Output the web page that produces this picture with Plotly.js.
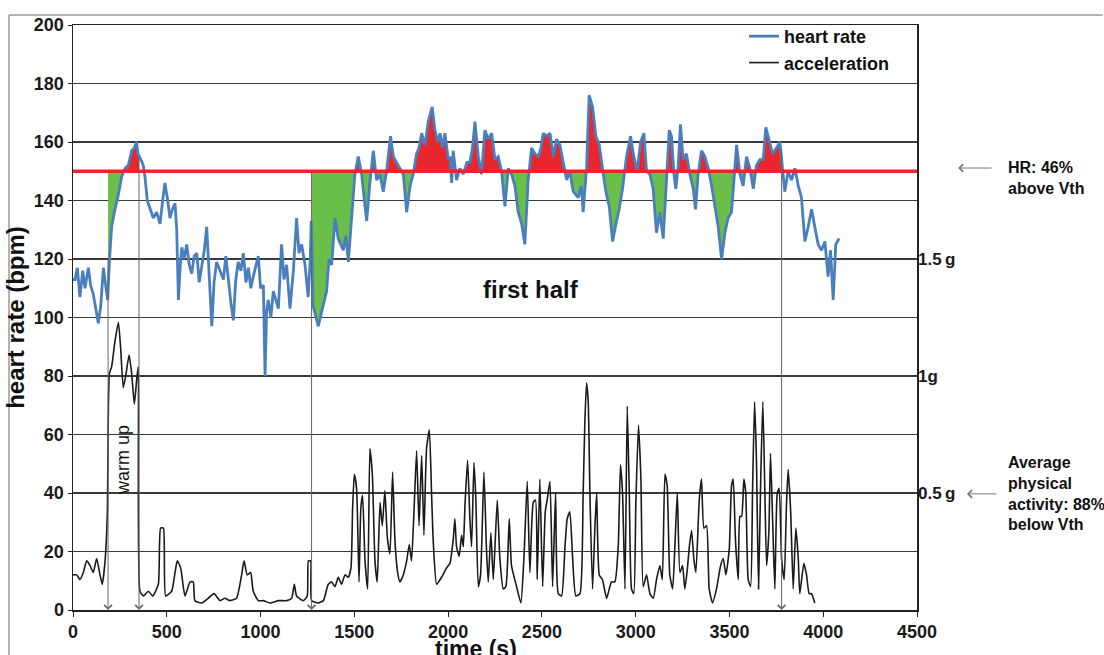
<!DOCTYPE html>
<html><head><meta charset="utf-8">
<script src="https://cdn.plot.ly/plotly-3.0.1.min.js"></script>
<style>html,body{margin:0;padding:0;background:#fff;} #chart{width:1104px;height:655px;}</style>
</head><body><div id="chart"></div>
<script>
// ---- data ----
const hrTime = [
  0,11,23,37,52,64,82,94,108,123,
  135,148,162,174,185,194,206,224,242,259,
  277,295,313,327,339,346,352,362,375,384,
  396,410,428,446,464,478,490,505,517,530,
  544,553,562,572,580,593,606,620,633,646,
  660,673,686,700,713,726,740,752,766,784,
  802,815,828,842,855,868,881,895,908,922,
  935,948,961,975,988,1000,1015,1024,1032,1041,
  1055,1068,1082,1095,1112,1125,1139,1150,1157,1175,
  1192,1205,1219,1237,1254,1265,1270,1280,1295,1308,
  1326,1352,1365,1379,1397,1414,1441,1455,1468,1485,
  1503,1521,1539,1557,1566,1583,1601,1619,1637,1654,
  1672,1693,1708,1725,1743,1761,1779,1797,1814,1832,
  1845,1859,1877,1894,1915,1930,1945,1957,1970,1983,
  2001,2010,2019,2027,2045,2063,2081,2100,2116,2130,
  2143,2161,2178,2196,2214,2232,2250,2267,2285,2303,
  2321,2338,2356,2374,2392,2409,2427,2445,2463,2481,
  2495,2507,2525,2543,2561,2578,2596,2614,2632,2649,
  2667,2694,2710,2720,2738,2752,2770,2788,2806,2823,
  2841,2859,2877,2895,2912,2930,2951,2973,2990,3008,
  3026,3044,3058,3076,3093,3111,3129,3147,3164,3179,
  3191,3204,3214,3227,3239,3253,3271,3289,3307,3319,
  3333,3351,3369,3387,3405,3422,3440,3458,3476,3493,
  3511,3524,3538,3556,3573,3591,3609,3627,3644,3662,
  3680,3694,3712,3730,3751,3769,3783,3795,3813,3831,
  3849,3867,3884,3902,3920,3938,3955,3973,3991,4009,
  4026,4039,4053,4067,4085
];
const hrBpm = [
  113,113,117,107,116,110,117,111,108,102,
  98,104,117,111,106,119,131,137,142,148,
  151,152,157,158,160,156,155,154,152,148,
  140,137,134,136,132,140,146,140,134,137,
  139,130,106,118,124,120,125,118,115,121,
  122,112,117,123,131,115,97,112,119,116,
  113,121,112,105,99,113,119,116,122,112,
  117,110,114,118,121,110,111,80,102,106,
  100,109,106,103,125,113,118,110,103,116,
  134,122,125,118,107,120,133,104,100,97,
  102,109,120,118,134,127,123,128,119,133,
  149,155,149,138,133,146,157,147,149,143,
  150,162,155,153,151,149,136,145,149,156,
  158,163,159,167,172,164,160,163,158,163,
  154,155,146,157,147,151,149,153,153,158,
  167,155,149,164,161,163,154,155,150,138,
  151,149,145,136,132,125,147,158,156,155,
  158,163,162,163,155,161,159,153,147,150,
  143,141,145,136,151,176,172,162,159,151,
  143,138,126,132,137,144,155,162,155,150,
  160,163,150,149,144,129,136,127,146,164,
  162,149,144,152,166,154,156,149,144,137,
  149,157,155,151,145,138,131,120,129,134,
  136,147,159,149,145,155,151,144,152,154,
  154,165,160,156,158,160,151,143,150,147,
  151,145,141,126,131,137,131,125,123,126,
  114,123,106,125,127
];
const accTime = [
  0,20,37,55,73,91,108,126,144,156,
  171,183,194,206,224,242,254,268,283,299,
  313,327,339,348,357,375,402,425,455,467,
  482,494,526,544,556,574,597,624,641,650,
  686,721,752,784,810,837,872,899,912,929,
  947,961,988,1015,1050,1095,1139,1166,1180,1192,
  1228,1249,1255,1267,1272,1308,1335,1361,1379,1397,
  1414,1432,1450,1468,1482,1491,1500,1512,1525,1535,
  1544,1557,1571,1583,1596,1610,1622,1637,1649,1663,
  1676,1690,1704,1717,1731,1743,1761,1779,1793,1805,
  1818,1832,1845,1859,1871,1885,1900,1912,1921,1939,
  1965,1992,2010,2027,2036,2045,2059,2072,2081,2090,
  2104,2116,2125,2138,2148,2161,2173,2191,2205,2214,
  2228,2241,2262,2276,2294,2308,2326,2338,2365,2388,
  2404,2422,2436,2454,2466,2475,2489,2504,2518,2528,
  2543,2557,2573,2587,2605,2623,2635,2649,2664,2681,
  2703,2720,2729,2738,2747,2756,2770,2783,2792,2806,
  2823,2845,2871,2889,2907,2919,2930,2943,2955,2966,
  2978,2990,3001,3015,3028,3040,3058,3076,3094,3111,
  3129,3142,3156,3168,3182,3197,3209,3222,3236,3250,
  3262,3275,3286,3298,3310,3321,3339,3351,3364,3378,
  3392,3410,3431,3453,3467,3481,3499,3511,3520,3532,
  3547,3556,3565,3577,3587,3600,3613,3623,3634,3644,
  3655,3667,3678,3689,3698,3710,3719,3730,3742,3755,
  3765,3778,3792,3804,3813,3826,3840,3854,3867,3875,
  3897,3911,3925,3937,3955
];
const accG = [
  0.15,0.15,0.13,0.16,0.21,0.19,0.16,0.22,0.15,0.11,
  0.21,0.41,1.01,1.04,1.15,1.23,1.12,0.95,1.01,1.09,
  1.01,0.88,0.98,1.04,0.08,0.06,0.08,0.06,0.11,0.35,
  0.35,0.06,0.08,0.16,0.21,0.18,0.06,0.12,0.12,0.04,
  0.03,0.05,0.07,0.04,0.05,0.04,0.05,0.15,0.21,0.15,
  0.16,0.08,0.04,0.04,0.03,0.04,0.04,0.05,0.11,0.06,
  0.04,0.06,0.21,0.21,0.04,0.03,0.04,0.11,0.12,0.10,
  0.14,0.11,0.15,0.14,0.18,0.44,0.58,0.52,0.12,0.44,
  0.49,0.21,0.09,0.69,0.58,0.21,0.12,0.46,0.36,0.51,
  0.31,0.24,0.59,0.29,0.16,0.12,0.15,0.21,0.28,0.21,
  0.42,0.68,0.36,0.66,0.32,0.69,0.77,0.49,0.29,0.11,
  0.14,0.18,0.20,0.30,0.39,0.27,0.23,0.32,0.27,0.45,
  0.64,0.39,0.27,0.63,0.47,0.10,0.15,0.59,0.25,0.12,
  0.33,0.13,0.47,0.22,0.09,0.10,0.39,0.19,0.10,0.03,
  0.22,0.55,0.16,0.46,0.47,0.13,0.56,0.10,0.42,0.47,
  0.55,0.10,0.50,0.07,0.06,0.27,0.39,0.42,0.22,0.06,
  0.07,0.50,0.80,0.97,0.89,0.50,0.09,0.36,0.50,0.15,
  0.13,0.05,0.12,0.12,0.27,0.62,0.50,0.09,0.87,0.50,
  0.09,0.07,0.46,0.79,0.56,0.10,0.15,0.07,0.05,0.13,
  0.19,0.13,0.58,0.53,0.15,0.09,0.27,0.50,0.16,0.19,
  0.09,0.17,0.27,0.34,0.22,0.16,0.47,0.56,0.35,0.36,
  0.09,0.03,0.09,0.19,0.22,0.15,0.26,0.53,0.56,0.30,
  0.13,0.40,0.40,0.56,0.50,0.13,0.10,0.50,0.89,0.64,
  0.09,0.57,0.89,0.50,0.19,0.33,0.67,0.39,0.09,0.50,
  0.52,0.22,0.13,0.45,0.60,0.43,0.09,0.35,0.22,0.07,
  0.20,0.15,0.07,0.07,0.03
];
const thresholdBpm = 150;                 // Vth heart rate
const fillIntervals = [[187, 352], [1272, 3778]];
const markerTime = [187, 352, 1272, 3778];
const markerTop = [121, 155, 150, 158];
const gTickVals = [0.5, 1, 1.5];
const gTickText = ['0.5\u2009g', '1g', '1.5\u2009g'];
const xTickVals = [0, 500, 1000, 1500, 2000, 2500, 3000, 3500, 4000, 4500];
const xTitle = 'time (s)';

// ---- helpers ----
const FONT = '"Liberation Sans", Arial, Helvetica, sans-serif';
function hrAt(t) {
  for (let i = 0; i < hrTime.length - 1; i++) {
    if (t >= hrTime[i] && t <= hrTime[i + 1]) {
      const f = (t - hrTime[i]) / (hrTime[i + 1] - hrTime[i]);
      return hrBpm[i] + f * (hrBpm[i + 1] - hrBpm[i]);
    }
  }
  return hrBpm[hrBpm.length - 1];
}
function buildFill(a, b, below) {
  const thr = thresholdBpm;
  const pts = [[a, hrAt(a)]];
  hrTime.forEach((t, i) => { if (t > a && t < b) pts.push([t, hrBpm[i]]); });
  pts.push([b, hrAt(b)]);
  const out = [];
  for (let i = 0; i < pts.length; i++) {
    if (i > 0) {
      const [t0, v0] = pts[i - 1], [t1, v1] = pts[i];
      if ((v0 - thr) * (v1 - thr) < 0) {
        out.push([t0 + (thr - v0) / (v1 - v0) * (t1 - t0), thr]);
      }
    }
    out.push(pts[i]);
  }
  const xs = out.map(p => p[0]);
  const ys = out.map(p => below ? Math.min(p[1], thr) : Math.max(p[1], thr));
  xs.push(b, a); ys.push(thr, thr);
  return { x: xs, y: ys };
}

const traces = [];
fillIntervals.forEach(([a, b]) => {
  const g = buildFill(a, b, true);
  traces.push({ type: 'scatter', mode: 'lines', x: g.x, y: g.y, fill: 'toself',
    fillcolor: '#6abf4b', line: { width: 0 }, hoverinfo: 'skip', showlegend: false });
  const r = buildFill(a, b, false);
  traces.push({ type: 'scatter', mode: 'lines', x: r.x, y: r.y, fill: 'toself',
    fillcolor: '#e8262c', line: { width: 0 }, hoverinfo: 'skip', showlegend: false });
});
traces.push({ type: 'scatter', mode: 'lines', name: 'acceleration', x: accTime, y: accG,
  yaxis: 'y2', line: { color: '#1a1a1a', width: 1.6, shape: 'spline', smoothing: 0.5 }, legendrank: 2 });
traces.push({ type: 'scatter', mode: 'lines', name: 'heart rate', x: hrTime, y: hrBpm,
  line: { color: '#4a7fbd', width: 2.8 }, legendrank: 1 });

const annotations = [];
markerTime.forEach((t, i) => {
  annotations.push({ x: t, y: 0, xref: 'x', yref: 'y', ax: t, ay: markerTop[i],
    axref: 'x', ayref: 'y', text: '', showarrow: true, arrowhead: 4, arrowsize: 1.5,
    arrowwidth: 1, arrowcolor: '#666' });
});
annotations.push(
  { x: 2441, y: 109.7, xref: 'x', yref: 'y', text: 'first half', showarrow: false,
    font: { family: FONT, size: 24, weight: 'bold', color: '#111' } },
  { x: 267, y: 51.3, xref: 'x', yref: 'y', text: 'warm up', showarrow: false, textangle: -90,
    font: { family: FONT, size: 18, color: '#111' } },
  { x: 1.0486, y: 151.1, xref: 'paper', yref: 'y', ax: 35, ay: 0, text: '', showarrow: true,
    arrowhead: 4, arrowsize: 1.5, arrowwidth: 1, arrowcolor: '#777' },
  { x: 1.0592, y: 39.7, xref: 'paper', yref: 'y', ax: 31, ay: 0, text: '', showarrow: true,
    arrowhead: 4, arrowsize: 1.5, arrowwidth: 1, arrowcolor: '#777' },
  { x: 1.1055, y: 147.7, xref: 'paper', yref: 'y', xanchor: 'left', yanchor: 'middle', align: 'left',
    text: 'HR: 46%<br>above Vth', showarrow: false,
    font: { family: FONT, size: 16, weight: 'bold', color: '#111' } },
  { x: 1.1055, y: 39.7, xref: 'paper', yref: 'y', xanchor: 'left', yanchor: 'middle', align: 'left',
    text: 'Average<br>physical<br>activity: 88%<br>below Vth', showarrow: false,
    font: { family: FONT, size: 16, weight: 'bold', color: '#111' } },
  // x-axis title, placed below the tick labels (partly cut by the page edge, as in the source)
  { x: 0.4775, y: -0.041, xref: 'paper', yref: 'paper', xanchor: 'center', yanchor: 'top',
    text: xTitle, showarrow: false,
    font: { family: FONT, size: 23, weight: 'bold', color: '#111' } }
);

const shapes = [
  { type: 'line', xref: 'paper', yref: 'y', x0: 0, x1: 1, y0: thresholdBpm, y1: thresholdBpm,
    line: { color: '#e8262c', width: 3.5 }, layer: 'above' },
  { type: 'line', xref: 'paper', yref: 'paper', x0: -0.0758, x1: -0.0758, y0: 1.0171, y1: -0.2,
    line: { color: '#999', width: 1.5 } },
  { type: 'line', xref: 'paper', yref: 'paper', x0: -0.0758, x1: 1.22, y0: 1.0171, y1: 1.0171,
    line: { color: '#999', width: 1.5 } }
];

const layout = {
  width: 1104, height: 655,
  margin: { l: 73, r: 187, t: 25, b: 45 },
  paper_bgcolor: '#fff', plot_bgcolor: '#fff',
  font: { family: FONT, color: '#111' },
  showlegend: true,
  legend: { x: 0.795, y: 1.012, xanchor: 'left', yanchor: 'top', bgcolor: 'rgba(0,0,0,0)',
    font: { family: FONT, size: 18, weight: 'bold', color: '#111' }, tracegroupgap: 0 },
  xaxis: { range: [0, 4500], tickvals: xTickVals, showgrid: false, zeroline: false,
    showline: true, linecolor: '#222', linewidth: 1.5, mirror: true,
    ticks: 'outside', ticklen: 5, tickcolor: '#222', automargin: false,
    tickfont: { family: FONT, size: 18, weight: 'bold', color: '#1a1a1a' } },
  yaxis: { range: [0, 200], dtick: 20, tick0: 0, showgrid: true, gridcolor: '#3a3a3a', gridwidth: 1.3,
    zeroline: false, showline: true, linecolor: '#222', linewidth: 1.5, mirror: true,
    ticks: 'outside', ticklen: 4, tickcolor: '#222', automargin: false,
    tickfont: { family: FONT, size: 18, weight: 'bold', color: '#1a1a1a' },
    title: { text: 'heart rate (bpm)', font: { family: FONT, size: 24, weight: 'bold', color: '#111' }, standoff: 2 } },
  yaxis2: { overlaying: 'y', side: 'right', range: [0, 2.5], tickvals: gTickVals, ticktext: gTickText,
    showgrid: false, zeroline: false, showline: false, ticks: '', automargin: false,
    tickfont: { family: FONT, size: 17, weight: 'bold', color: '#1a1a1a' } },
  annotations: annotations,
  shapes: shapes
};

Plotly.newPlot('chart', traces, layout, { displayModeBar: false, staticPlot: true });
</script>
</body></html>
